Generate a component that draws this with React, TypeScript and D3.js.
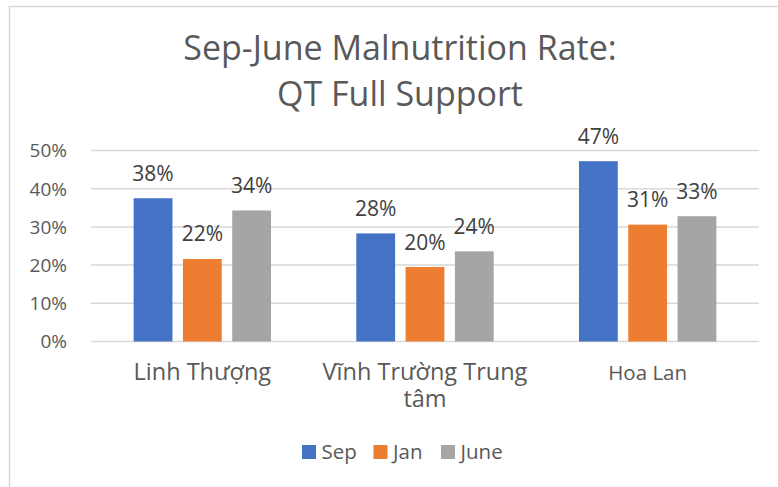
import React from "react";
import * as d3 from "d3";

const categories = ["Linh Thượng", "Vĩnh Trường Trung tâm", "Hoa Lan"];
const categoryLines = [["Linh Thượng"], ["Vĩnh Trường Trung", "tâm"], ["Hoa Lan"]];
const seriesNames = ["Sep", "Jan", "June"];
const sepValues = [0.375, 0.283, 0.472];
const janValues = [0.216, 0.195, 0.306];
const juneValues = [0.343, 0.236, 0.328];
const yTicks = [0, 0.1, 0.2, 0.3, 0.4, 0.5];
const titleLines = ["Sep-June Malnutrition Rate:", "QT Full Support"];
const colors = ["#4472C4", "#ED7D31", "#A5A5A5"];

const W = 778;
const H = 487;
const FONT = "'Open Sans', 'Noto Sans', sans-serif";

export default function App() {
  const series = [sepValues, janValues, juneValues];
  const x0 = d3
    .scaleBand<string>()
    .domain(categories)
    .range([91, 759])
    .paddingInner(0.383)
    .paddingOuter(0.1915);
  const x1 = d3
    .scaleBand<string>()
    .domain(seriesNames)
    .range([0, x0.bandwidth()])
    .paddingInner(0.213)
    .paddingOuter(0);
  const y = d3.scaleLinear().domain([0, 0.5]).range([341.5, 150.5]);
  const pct = d3.format(".0%");
  const catFont = [23.5, 23.5, 20.5];

  return (
    <svg
      width={W}
      height={H}
      style={{ position: "absolute", left: 0, top: 0, display: "block", background: "#fff" }}
      fontFamily={FONT}
    >
      <rect x={0} y={0} width={W} height={H} fill="#fff" />
      <rect x={9.5} y={6.5} width={W + 20} height={H + 20} fill="none" stroke="#d9d9d9" strokeWidth={1.5} />
      {titleLines.map((t, i) => (
        <text key={t} x={400} y={59.5 + i * 46} textAnchor="middle" fontSize={34} fill="#595959">
          {t}
        </text>
      ))}
      {yTicks.map((t) => (
        <g key={t}>
          <line x1={91} x2={759} y1={y(t)} y2={y(t)} stroke="#d9d9d9" strokeWidth={1.5} />
          <text x={67} y={y(t) + 6.8} textAnchor="end" fontSize={19} fill="#595959">
            {pct(t)}
          </text>
        </g>
      ))}
      {categories.map((c, ci) => (
        <g key={c}>
          {series.map((vals, si) => {
            const bx = (x0(c) as number) + (x1(seriesNames[si]) as number);
            const by = y(vals[ci]);
            return (
              <g key={si}>
                <rect x={bx} y={by} width={x1.bandwidth()} height={y(0) - by} fill={colors[si]} />
                <text
                  x={bx + x1.bandwidth() / 2}
                  y={by - 17.5}
                  textAnchor="middle"
                  fontSize={21}
                  fill="#404040"
                >
                  {pct(vals[ci])}
                </text>
              </g>
            );
          })}
          {categoryLines[ci].map((line, li) => (
            <text
              key={li}
              x={(x0(c) as number) + x0.bandwidth() / 2}
              y={380 + li * 27}
              textAnchor="middle"
              fontSize={catFont[ci]}
              fill="#595959"
            >
              {line}
            </text>
          ))}
        </g>
      ))}
      {seriesNames.map((s, si) => {
        const lx = [302, 373.5, 441][si];
        return (
          <g key={s}>
            <rect x={lx} y={445} width={14} height={14} fill={colors[si]} />
            <text x={lx + 19.5} y={458.5} fontSize={20.5} fill="#595959">
              {s}
            </text>
          </g>
        );
      })}
    </svg>
  );
}
